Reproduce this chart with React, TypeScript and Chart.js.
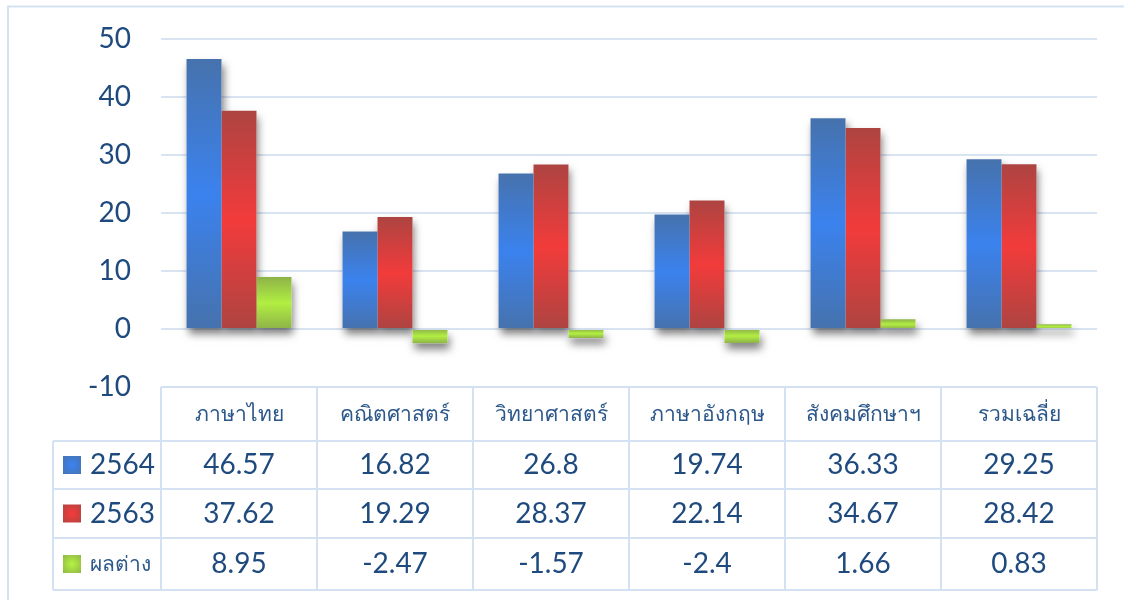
import React, { useEffect, useRef } from "react";
import { Chart, registerables } from "chart.js";

Chart.register(...registerables);

const categories = ["ภาษาไทย", "คณิตศาสตร์", "วิทยาศาสตร์", "ภาษาอังกฤษ", "สังคมศึกษาฯ", "รวมเฉลี่ย"];
const seriesNames = ["2564", "2563", "ผลต่าง"];
const values2564 = [46.57, 16.82, 26.8, 19.74, 36.33, 29.25];
const values2563 = [37.62, 19.29, 28.37, 22.14, 34.67, 28.42];
const valuesDiff = [8.95, -2.47, -1.57, -2.4, 1.66, 0.83];
const tableLabels2564 = ["46.57", "16.82", "26.8", "19.74", "36.33", "29.25"];
const tableLabels2563 = ["37.62", "19.29", "28.37", "22.14", "34.67", "28.42"];
const tableLabelsDiff = ["8.95", "-2.47", "-1.57", "-2.4", "1.66", "0.83"];
const yMin = -10;
const yMax = 50;
const yStep = 10;

const EDGE = ["#4672ad", "#ad4441", "#8db348"];
const CENTER = ["#3b82ee", "#f23b3b", "#b2ee42"];
const TEXT = "#1f4a7e";
const LINE = "#d4e1f2";
const FONT = "Lato, 'Noto Sans', 'DejaVu Sans', sans-serif";

function barGradient(i: number) {
  return (ctx: any) => {
    const chart = ctx.chart;
    const ys = chart.scales && chart.scales.y;
    if (!ys || ctx.type !== "data") return CENTER[i];
    const v = ctx.raw as number;
    const top = ys.getPixelForValue(Math.max(v, 0));
    const bot = ys.getPixelForValue(Math.min(v, 0));
    if (!isFinite(top) || !isFinite(bot) || bot - top < 1) return CENTER[i];
    const g = chart.ctx.createLinearGradient(0, top, 0, bot);
    g.addColorStop(0, EDGE[i]);
    g.addColorStop(0.5, CENTER[i]);
    g.addColorStop(1, EDGE[i]);
    return g;
  };
}

const shadowPlugin = {
  id: "barShadow",
  beforeDatasetsDraw(chart: any) {
    const ctx = chart.ctx;
    ctx.save();
    ctx.shadowColor = "rgba(0,0,0,0.5)";
    ctx.shadowBlur = 8;
    ctx.shadowOffsetX = 2;
    ctx.shadowOffsetY = 6;
    ctx.fillStyle = "#ffffff";
    chart.data.datasets.forEach((_: any, di: number) => {
      const meta = chart.getDatasetMeta(di);
      meta.data.forEach((el: any) => {
        const { x, y, base, width } = el.getProps(["x", "y", "base", "width"], true);
        const t = Math.min(y, base);
        const h = Math.abs(base - y);
        ctx.fillRect(x - width / 2, t, width, h);
      });
    });
    ctx.restore();
  },
};

const framePlugin = {
  id: "frame",
  beforeDraw(chart: any) {
    const ctx = chart.ctx;
    ctx.save();
    ctx.fillStyle = "#ffffff";
    ctx.fillRect(0, 0, chart.width, chart.height);
    ctx.strokeStyle = LINE;
    ctx.lineWidth = 2;
    ctx.beginPath();
    ctx.moveTo(8, chart.height);
    ctx.lineTo(8, 6.5);
    ctx.lineTo(chart.width, 6.5);
    ctx.stroke();
    ctx.restore();
  },
};

function legendSquare(ctx: CanvasRenderingContext2D, x: number, y: number, s: number, i: number) {
  const g = ctx.createRadialGradient(x + s / 2, y + s / 2, 1, x + s / 2, y + s / 2, s * 0.75);
  g.addColorStop(0, CENTER[i]);
  g.addColorStop(1, EDGE[i]);
  ctx.fillStyle = g;
  ctx.fillRect(x, y, s, s);
}

const tablePlugin = {
  id: "dataTable",
  afterDraw(chart: any) {
    const ctx = chart.ctx;
    const area = chart.chartArea;
    const xs = chart.scales.x;
    const n = categories.length;
    const colW = (area.right - area.left) / n;
    const headerTop = area.bottom;
    const rowLines = [441, 489, 538, 590];
    const legendLeft = 53;
    const rows = [tableLabels2564, tableLabels2563, tableLabelsDiff];

    ctx.save();
    ctx.strokeStyle = LINE;
    ctx.lineWidth = 2;
    ctx.beginPath();
    ctx.moveTo(area.left, headerTop);
    ctx.lineTo(area.right, headerTop);
    rowLines.forEach((ry) => {
      ctx.moveTo(legendLeft, ry);
      ctx.lineTo(area.right, ry);
    });
    for (let i = 0; i <= n; i++) {
      const cx = i < n ? xs.getPixelForValue(i) - colW / 2 : xs.getPixelForValue(n - 1) + colW / 2;
      ctx.moveTo(cx, headerTop);
      ctx.lineTo(cx, rowLines[rowLines.length - 1]);
    }
    ctx.moveTo(legendLeft, rowLines[0]);
    ctx.lineTo(legendLeft, rowLines[rowLines.length - 1]);
    ctx.stroke();

    ctx.fillStyle = "#2c5889";
    ctx.textAlign = "center";
    ctx.textBaseline = "middle";
    ctx.font = `21px ${FONT}`;
    categories.forEach((c, i) => {
      ctx.fillText(c, xs.getPixelForValue(i), (headerTop + rowLines[0]) / 2);
    });

    ctx.fillStyle = TEXT;
    ctx.font = `28px ${FONT}`;
    rows.forEach((r, ri) => {
      const cy = (rowLines[ri] + rowLines[ri + 1]) / 2;
      r.forEach((v, i) => {
        ctx.fillText(v, xs.getPixelForValue(i), cy);
      });
    });

    ctx.textAlign = "left";
    seriesNames.forEach((s, ri) => {
      const cy = (rowLines[ri] + rowLines[ri + 1]) / 2;
      legendSquare(ctx, 63, cy - 9, 18, ri);
      ctx.fillStyle = ri === 2 ? "#2c5889" : TEXT;
      ctx.font = ri === 2 ? `21px ${FONT}` : `28px ${FONT}`;
      ctx.fillText(s, 90, cy);
    });
    ctx.restore();
  },
};

export default function App() {
  const ref = useRef<HTMLCanvasElement | null>(null);
  useEffect(() => {
    if (!ref.current) return;
    const chart = new Chart(ref.current, {
      type: "bar",
      data: {
        labels: categories,
        datasets: [
          { label: seriesNames[0], data: values2564, backgroundColor: barGradient(0) },
          { label: seriesNames[1], data: values2563, backgroundColor: barGradient(1) },
          { label: seriesNames[2], data: valuesDiff, backgroundColor: barGradient(2) },
        ],
      },
      options: {
        responsive: false,
        animation: false,
        events: [],
        layout: { padding: { left: 0, right: 27, top: 39, bottom: 213 } },
        datasets: {
          bar: { categoryPercentage: 0.673, barPercentage: 1, borderWidth: 0 },
        },
        plugins: {
          legend: { display: false },
          tooltip: { enabled: false },
          title: { display: false },
        },
        scales: {
          x: { display: false },
          y: {
            min: yMin,
            max: yMax,
            afterFit: (scale: any) => {
              scale.width = 161;
            },
            ticks: {
              stepSize: yStep,
              padding: 30,
              color: TEXT,
              font: { family: FONT, size: 28, lineHeight: 0.3 },
            },
            border: { display: false },
            grid: {
              color: (c: any) => (c.tick && c.tick.value === yMin ? "rgba(0,0,0,0)" : "#d9e4f3"),
              lineWidth: 2,
              drawTicks: false,
            },
          },
        },
      },
      plugins: [framePlugin, shadowPlugin, tablePlugin],
    });
    return () => chart.destroy();
  }, []);
  return (
    <div style={{ position: "absolute", left: 0, top: 0, width: 1124, height: 600, background: "#fff" }}>
      <canvas ref={ref} width={1124} height={600} style={{ display: "block" }} />
    </div>
  );
}
